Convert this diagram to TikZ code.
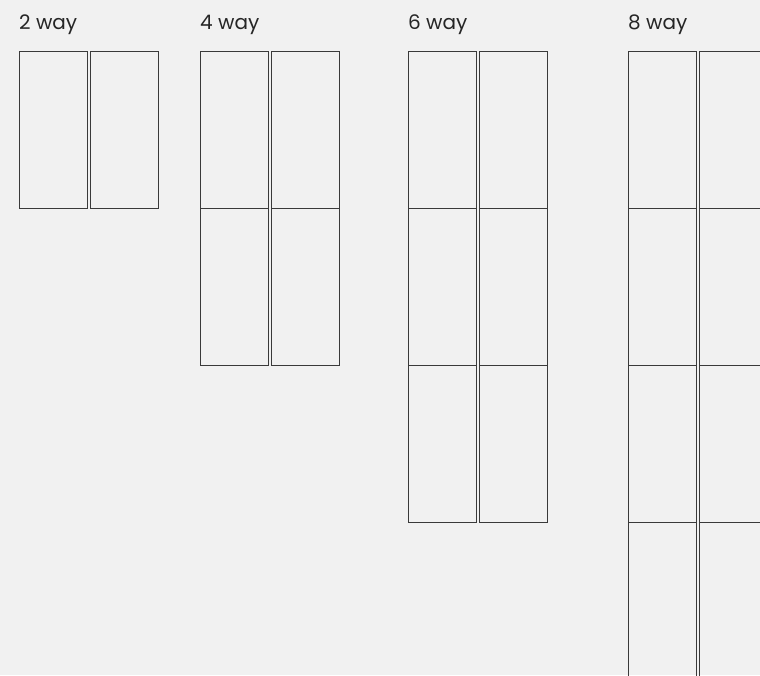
\documentclass[tikz,border=0pt]{standalone}
\usepackage{fontspec}
\setmainfont{Poppins}
\definecolor{bg}{HTML}{F1F1F1}
\definecolor{edge}{HTML}{3A3A3A}
\tikzset{
  cell/.style={draw=edge, line width=0.9pt, minimum width=68pt, minimum height=157pt, inner sep=0pt, outer sep=0pt, anchor=north west},
  title/.style={anchor=base west, inner sep=0pt, font=\fontsize{20}{24}\selectfont, text=black!85}
}
\begin{document}
\begin{tikzpicture}[x=1pt,y=-1pt]
\clip (0,0) rectangle (760,675);
\fill[bg] (0,0) rectangle (760,675);
\node[title] (t2) at (19,29.5) {2 way};
\node[title] (t4) at (200,29.5) {4 way};
\node[title] (t6) at (408,29.5) {6 way};
\node[title] (t8) at (628,29.5) {8 way};
% 2 way
\foreach \r in {1} {
  \node[cell] (a\r l) at (19.5,{51.5+157*(\r-1)}) {};
  \node[cell] (a\r r) at (90.5,{51.5+157*(\r-1)}) {};
}
% 4 way
\foreach \r in {1,2} {
  \node[cell] (b\r l) at (200.5,{51.5+157*(\r-1)}) {};
  \node[cell] (b\r r) at (271.5,{51.5+157*(\r-1)}) {};
}
% 6 way
\foreach \r in {1,2,3} {
  \node[cell] (c\r l) at (408.5,{51.5+157*(\r-1)}) {};
  \node[cell] (c\r r) at (479.5,{51.5+157*(\r-1)}) {};
}
% 8 way
\foreach \r in {1,2,3,4} {
  \node[cell] (d\r l) at (628.5,{51.5+157*(\r-1)}) {};
  \node[cell] (d\r r) at (699.5,{51.5+157*(\r-1)}) {};
}
\end{tikzpicture}
\end{document}
